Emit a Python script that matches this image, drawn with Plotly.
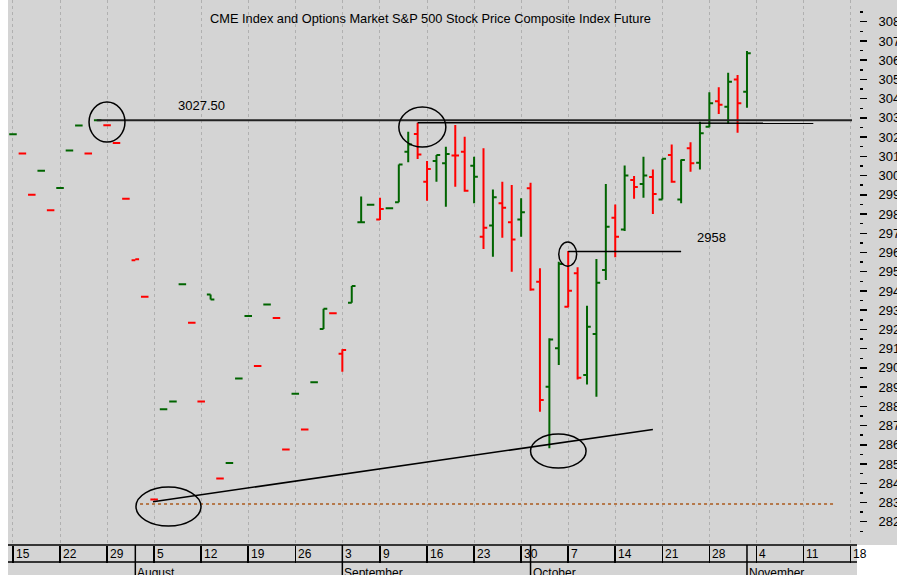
import pandas as pd
import plotly.graph_objects as go

# ---------------- data ----------------
HOLIDAYS = ["2019-09-02"]
calendar = pd.bdate_range("2019-07-15", "2019-11-18")
calendar = calendar[~calendar.isin(pd.to_datetime(HOLIDAYS))]
bar_dates = calendar[calendar <= pd.Timestamp("2019-11-01")]

open_ = [3021.5, 3011.5, 2990.0, 3002.5, 2982.0, 2993.5, 3013.0, 3026.0, 3011.5, 3028.8,
         3026.2, 3017.0, 2988.0, 2956.0, 2937.0, 2831.5, 2878.5, 2882.5, 2943.5, 2923.5,
         2882.5, 2938.2, 2842.5, 2850.5, 2894.5, 2927.0, 2901.0, 2933.0, 2926.0, 2857.5,
         2886.5, 2868.0, 2892.5, 2920.2, 2928.4, 2907.4, 2933.9, 2975.7, 2984.8, 2977.2,
         2983.0, 2986.1, 3012.4, 3021.6, 2996.8, 3007.6, 3006.4, 3010.4, 3012.4, 3005.1,
         2968.2, 2974.1, 2985.6, 2975.7, 2977.2, 2993.4, 2944.8, 2890.2, 2910.2, 2931.8,
         2949.2, 2896.3, 2917.6, 2950.9, 2978.1, 2972.0, 2997.7, 2995.6, 2999.2, 2987.6,
         3010.7, 2987.6, 3014.2, 3006.7, 3025.4, 3038.6, 3035.8, 3050.0, 3043.6]
high = [3021.5, 3011.5, 2990.0, 3002.5, 2982.0, 2993.5, 3013.0, 3026.0, 3011.5, 3028.8,
        3026.2, 3017.0, 2988.0, 2956.5, 2937.0, 2831.5, 2878.5, 2882.5, 2943.5, 2923.5,
        2882.5, 2938.2, 2842.5, 2850.5, 2894.5, 2927.0, 2901.0, 2933.0, 2926.0, 2857.5,
        2886.5, 2868.0, 2892.5, 2930.8, 2928.4, 2909.7, 2942.6, 2989.1, 2984.8, 2988.5,
        2983.0, 3005.8, 3022.8, 3027.5, 3007.6, 3010.7, 3015.0, 3026.3, 3020.2, 3009.8,
        3014.2, 2992.8, 2996.8, 2995.1, 2988.2, 2996.3, 2951.8, 2915.4, 2955.2, 2960.8,
        2952.3, 2932.3, 2956.6, 2995.6, 2985.0, 3005.3, 2999.8, 3009.8, 3003.2, 3008.8,
        3016.2, 3008.4, 3017.3, 3028.0, 3043.3, 3045.9, 3053.5, 3052.3, 3064.8]
low = [3021.5, 3011.5, 2990.0, 3002.5, 2982.0, 2993.5, 3013.0, 3026.0, 3011.5, 3028.8,
       3026.2, 3017.0, 2988.0, 2956.0, 2937.0, 2831.5, 2878.5, 2882.5, 2943.5, 2923.5,
       2882.5, 2935.6, 2842.5, 2850.5, 2894.5, 2927.0, 2901.0, 2933.0, 2926.0, 2857.5,
       2886.5, 2868.0, 2892.5, 2920.2, 2928.4, 2898.0, 2933.9, 2975.7, 2984.8, 2976.9,
       2983.0, 2986.1, 3006.9, 3008.6, 2986.9, 2996.8, 2983.8, 2994.2, 2991.6, 2985.6,
       2961.8, 2957.8, 2967.7, 2950.0, 2968.2, 2940.1, 2877.2, 2858.2, 2901.5, 2931.5,
       2894.0, 2891.4, 2885.0, 2945.7, 2957.5, 2971.2, 2988.0, 2988.5, 2980.0, 2987.6,
       2996.3, 2985.6, 3002.0, 3003.2, 3025.1, 3032.0, 3026.8, 3022.3, 3035.3]
close = [3021.5, 3011.5, 2990.0, 3002.5, 2982.0, 2993.5, 3013.0, 3026.0, 3011.5, 3028.8,
         3026.2, 3017.0, 2988.0, 2956.5, 2937.0, 2831.5, 2878.5, 2882.5, 2943.5, 2923.5,
         2882.5, 2935.6, 2842.5, 2850.5, 2894.5, 2927.0, 2901.0, 2933.0, 2926.0, 2857.5,
         2886.5, 2868.0, 2892.5, 2930.8, 2928.4, 2909.3, 2942.6, 2975.7, 2984.8, 2982.6,
         2983.0, 3005.8, 3016.2, 3011.0, 3003.4, 3010.7, 3011.2, 3010.4, 2992.1, 2999.4,
         2972.9, 2988.7, 2983.3, 2966.8, 2980.9, 2940.8, 2883.3, 2914.8, 2954.0, 2940.1,
         2894.9, 2921.4, 2944.3, 2973.4, 2968.2, 3000.1, 2994.0, 3000.1, 2990.4, 3008.8,
         2996.8, 3008.1, 3006.4, 3022.0, 3037.6, 3036.8, 3048.8, 3037.6, 3063.6]

y_tick_values = list(range(2820, 3081, 10))
y_minor_values = list(range(2815, 3091, 10))

level_high = 3028.8        # "3027.50" resistance line
level_2958 = 2960.5        # "2958" line
trend_start = (14.88, 2830.4)
trend_end = (68.0, 2868.0)
support_level = 2829.2

# ---------------- style ----------------
BG = "#d4d4d4"
GREEN = "#006400"
RED = "#ff0000"
FONT = "Liberation Sans, Arial, sans-serif"
W, H = 897, 575
ML, MR, MT, MB = 8, 38, 0, 30
PW, PH = W - ML - MR, H - MT - MB      # 851 x 545
PLOT_RIGHT = 852


def pxx(p):
    return (p - ML) / PW


def pxy(p):
    return (MT + PH - p) / PH


# ---------------- positions from the trading calendar ----------------
cal_index = {d: i for i, d in enumerate(calendar)}
x_bar = [cal_index[d] for d in bar_dates]

up = [True] + [c > p for p, c in zip(close[:-1], close[1:])]

week_starts = []
month_starts = []
for i, d in enumerate(calendar):
    if i == 0 or d.isocalendar()[1] != calendar[i - 1].isocalendar()[1]:
        week_starts.append(i)
    if i > 0 and d.month != calendar[i - 1].month:
        month_starts.append(i)

fig = go.Figure()
for flag, col in ((True, GREEN), (False, RED)):
    idx = [k for k in range(len(x_bar)) if up[k] == flag]
    fig.add_trace(go.Ohlc(
        x=[x_bar[k] for k in idx],
        open=[open_[k] for k in idx],
        high=[high[k] for k in idx],
        low=[low[k] for k in idx],
        close=[close[k] for k in idx],
        increasing=dict(line=dict(color=col, width=2)),
        decreasing=dict(line=dict(color=col, width=2)),
        tickwidth=0.4,
        showlegend=False,
        hoverinfo="skip",
    ))

shapes = []
# grey panels for the right axis area and the date strip
shapes.append(dict(type="rect", xref="paper", yref="paper",
                   x0=pxx(PLOT_RIGHT), x1=pxx(W + 5), y0=0, y1=1,
                   fillcolor=BG, line=dict(width=0), layer="below"))
shapes.append(dict(type="rect", xref="paper", yref="paper",
                   x0=0, x1=pxx(857), y0=pxy(H + 5), y1=0,
                   fillcolor=BG, line=dict(width=0), layer="below"))
# strip lines
for yy in (545, 562):
    shapes.append(dict(type="line", xref="paper", yref="paper",
                       x0=0, x1=pxx(857), y0=pxy(yy), y1=pxy(yy),
                       line=dict(color="black", width=1.5)))
# month separators
for m in month_starts:
    shapes.append(dict(type="line", xref="x", yref="paper",
                       x0=m, x1=m, y0=0, y1=pxy(H + 5),
                       line=dict(color="black", width=1.5)))
# annotation lines
shapes.append(dict(type="line", xref="x", yref="y", x0=8.9, x1=92,
                   y0=level_high, y1=level_high, line=dict(color="#222", width=2)))
shapes.append(dict(type="line", xref="x", yref="y", x0=43, x1=85.05,
                   y0=3027.5, y1=3027.2, line=dict(color="black", width=1.5)))
shapes.append(dict(type="line", xref="x", yref="y", x0=59, x1=71,
                   y0=level_2958, y1=level_2958, line=dict(color="black", width=1.5)))
shapes.append(dict(type="line", xref="x", yref="y", x0=trend_start[0], x1=trend_end[0],
                   y0=trend_start[1], y1=trend_end[1], line=dict(color="black", width=1.5)))
shapes.append(dict(type="line", xref="x", yref="y", x0=13.5, x1=87.35,
                   y0=support_level, y1=support_level,
                   line=dict(color="#b5784a", width=2, dash="dot")))
# ellipses
for (xa, xb, ya, yb) in [(8.08, 11.9, 3017.4, 3038.2),
                         (41.0, 46.0, 3014.8, 3035.6),
                         (58.0, 59.9, 2952.9, 2965.4),
                         (55.0, 60.9, 2847.9, 2865.6),
                         (13.07, 19.98, 2817.8, 2838.0)]:
    shapes.append(dict(type="circle", xref="x", yref="y", x0=xa, x1=xb, y0=ya, y1=yb,
                       line=dict(color="black", width=1.5)))

annotations = []
annotations.append(dict(text="CME Index and Options Market S&P 500 Stock Price Composite Index Future",
                        xref="paper", yref="paper", x=pxx(430), y=pxy(19),
                        xanchor="center", yanchor="middle", showarrow=False,
                        font=dict(family=FONT, size=12.8, color="black")))
annotations.append(dict(text="3027.50", xref="x", yref="y", x=20.0, y=3036.7,
                        showarrow=False, font=dict(family=FONT, size=13, color="black")))
annotations.append(dict(text="2958", xref="x", yref="y", x=74.2, y=2968.0,
                        showarrow=False, font=dict(family=FONT, size=13, color="black")))
for w in week_starts:
    annotations.append(dict(text=str(calendar[w].day), xref="x", yref="paper",
                            x=w, y=pxy(553.5), xanchor="left", yanchor="middle",
                            xshift=1, showarrow=False,
                            font=dict(family=FONT, size=12, color="black")))
for m in month_starts:
    annotations.append(dict(text=calendar[m].strftime("%B"), xref="x", yref="paper",
                            x=m, y=pxy(563.5), xanchor="left", yanchor="top",
                            xshift=0, showarrow=False,
                            font=dict(family=FONT, size=12, color="black")))

fig.update_layout(
    width=W, height=H, autosize=False,
    margin=dict(l=ML, r=MR, t=MT, b=MB, pad=0, autoexpand=False),
    paper_bgcolor="white", plot_bgcolor=BG,
    font=dict(family=FONT, size=12, color="black"),
    shapes=shapes, annotations=annotations,
    xaxis=dict(range=[-0.53, 89.16], domain=[0, (PLOT_RIGHT - ML) / PW],
               tickmode="array", tickvals=week_starts, showticklabels=False,
               ticks="outside", ticklen=17, tickwidth=1.5, tickcolor="black",
               showgrid=True, griddash="dot", gridcolor="#b0b0b0", gridwidth=1,
               zeroline=False, showline=False, rangeslider=dict(visible=False),
               fixedrange=True, automargin=False),
    yaxis=dict(range=[2807.9, 3091.3], side="right", anchor="free", position=1,
               tickmode="array", tickvals=y_tick_values,
               ticktext=[str(v) for v in y_tick_values],
               ticks="outside", ticklen=7, tickwidth=1.5, tickcolor="black",
               ticklabelstandoff=9, automargin=False,
               tickfont=dict(family=FONT, size=13, color="black"),
               minor=dict(tickmode="array", tickvals=y_minor_values, ticks="outside",
                          ticklen=3, tickwidth=1.5, tickcolor="black", showgrid=False),
               showgrid=False, zeroline=False, showline=False, fixedrange=True),
)

fig.write_html(
    "out.html",
    config={"displayModeBar": False, "staticPlot": True},
    post_script="document.body.style.margin='0px';document.body.style.overflow='hidden';",
)
